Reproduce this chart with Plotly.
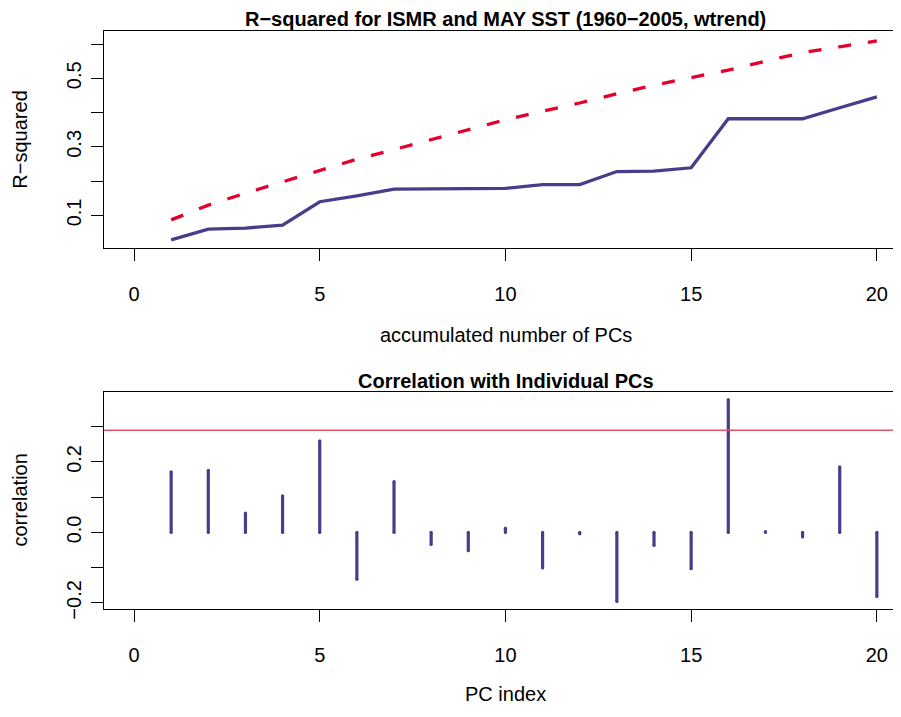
import plotly.graph_objects as go

# ---- data ----
pcs = list(range(1, 21))
r2_accum = [0.029, 0.060, 0.063, 0.072, 0.140, 0.157, 0.177, 0.178, 0.178, 0.179,
            0.190, 0.190, 0.228, 0.229, 0.239, 0.382, 0.382, 0.382, 0.414, 0.446]
r2_crit = [0.087, 0.130, 0.165, 0.198, 0.233, 0.264, 0.292, 0.321, 0.350, 0.379,
           0.404, 0.428, 0.455, 0.480, 0.502, 0.524, 0.550, 0.575, 0.592, 0.609]
corr = [0.172, 0.176, 0.055, 0.104, 0.260, -0.133, 0.144, -0.034, -0.052, 0.012,
        -0.101, -0.004, -0.196, -0.037, -0.103, 0.377, 0.002, -0.013, 0.186, -0.182]
corr_crit = 0.29

x_ticks = [0, 5, 10, 15, 20]
y1_ticks = [0.1, 0.2, 0.3, 0.4, 0.5, 0.6]
y1_text = ["0.1", "", "0.3", "", "0.5", ""]
y2_ticks = [-0.2, -0.1, 0.0, 0.1, 0.2, 0.3]
y2_text = ["\u22120.2", "", "0.0", "", "0.2", ""]

title1 = "R\u2212squared for ISMR and MAY SST (1960\u22122005, wtrend)"
title2 = "Correlation with Individual PCs"
xlab1 = "accumulated number of PCs"
ylab1 = "R\u2212squared"
xlab2 = "PC index"
ylab2 = "correlation"

BLUE = "#483D8B"
RED = "#E4002B"
HLINE = "#DF536B"
FONT = "Liberation Sans"

# the page body adds an 8px offset; work in page pixels and convert
OFF = 8
W, H = 901 - OFF, 717 - OFF
ML = 104 - OFF

def py(page_px):
    return 1 - (page_px - OFF) / H

def pxx(page_px):
    return (page_px - OFF - ML) / (W - ML)

fig = go.Figure()

fig.add_trace(go.Scatter(x=pcs, y=r2_crit, mode="lines",
                         line=dict(color=RED, width=3.3, dash="13px,17px"),
                         xaxis="x", yaxis="y", showlegend=False))
fig.add_trace(go.Scatter(x=pcs, y=r2_accum, mode="lines",
                         line=dict(color=BLUE, width=3.3),
                         xaxis="x", yaxis="y", showlegend=False))

# vertical "h"-type segments for correlations
seg_x, seg_y = [], []
for p, c in zip(pcs, corr):
    seg_x += [p, p, None]
    seg_y += [0, c, None]
fig.add_trace(go.Scatter(x=seg_x, y=seg_y, mode="lines+markers",
                         line=dict(color=BLUE, width=3.2),
                         marker=dict(color=BLUE, size=3.2),
                         xaxis="x2", yaxis="y2", showlegend=False))

fig.add_shape(type="line", xref="x2 domain", x0=0, x1=1, yref="y2",
              y0=corr_crit, y1=corr_crit, line=dict(color=HLINE, width=1.3))

axis_common = dict(showline=True, linecolor="black", linewidth=1,
                   ticks="outside", ticklen=12, tickwidth=1, tickcolor="black",
                   showgrid=False, zeroline=False,
                   tickfont=dict(family=FONT, size=20, color="black"))

xr = [-0.808, 20.65]
fig.update_layout(
    width=W, height=H,
    margin=dict(l=ML, r=0, t=0, b=0),
    paper_bgcolor="white", plot_bgcolor="white",
    xaxis=dict(domain=[0, 1], range=xr, tickvals=x_ticks, anchor="y",
               mirror=True, ticklabelstandoff=16, **axis_common),
    yaxis=dict(domain=[py(251.7), py(31.7)], range=[0.0053, 0.637],
               tickvals=y1_ticks, ticktext=y1_text, tickangle=-90,
               anchor="x", ticklabelstandoff=2, **axis_common),
    xaxis2=dict(domain=[0, 1], range=xr, tickvals=x_ticks, anchor="y2",
                mirror=True, ticklabelstandoff=16, **axis_common),
    yaxis2=dict(domain=[py(618.3), py(398.3)], range=[-0.2168, 0.3978],
                tickvals=y2_ticks, ticktext=y2_text, tickangle=-90,
                anchor="x2", ticklabelstandoff=2, **axis_common),
)

ann = [
    dict(text="<b>" + title1 + "</b>", x=pxx(506), y=py(19), size=20),
    dict(text="<b>" + title2 + "</b>", x=pxx(506), y=py(387), size=20),
    dict(text=xlab1, x=pxx(506), y=py(340), size=20),
    dict(text=xlab2, x=pxx(506), y=py(705), size=20),
    dict(text=ylab1, x=pxx(20), y=py(141.7), size=20, angle=-90),
    dict(text=ylab2, x=pxx(20), y=py(508.3), size=20, angle=-90),
]
for a in ann:
    fig.add_annotation(text=a["text"], x=a["x"], y=a["y"], xref="paper", yref="paper",
                       xanchor="center", yanchor="middle", showarrow=False,
                       textangle=a.get("angle", 0),
                       font=dict(family=FONT, size=a["size"], color="black"))

fig.write_html("out.html")
